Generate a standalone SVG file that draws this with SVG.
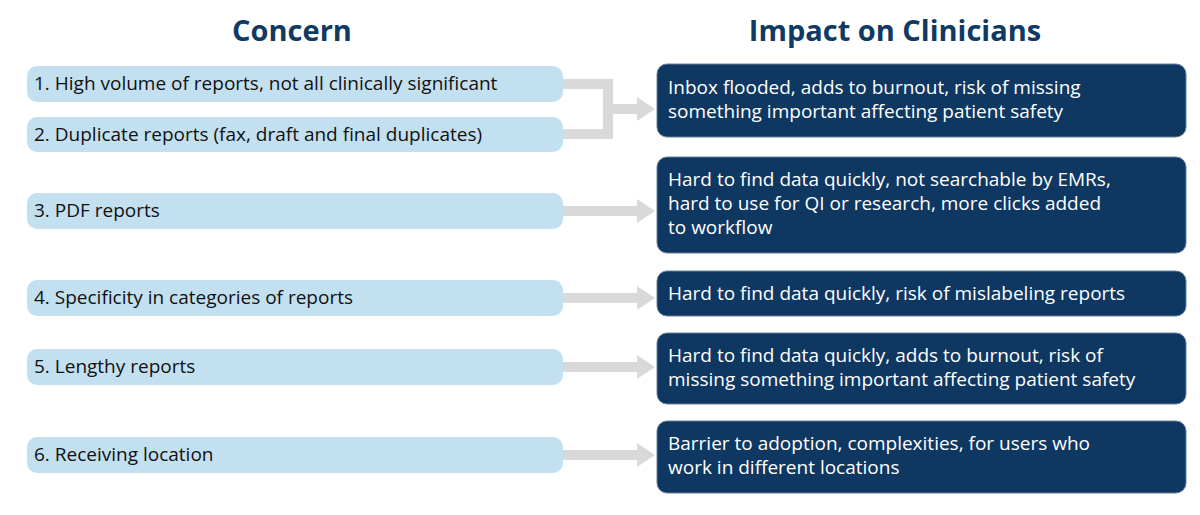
<svg xmlns="http://www.w3.org/2000/svg" width="1200" height="515" viewBox="0 0 1200 515">
<style>
.h{font-family:"Open Sans","Liberation Sans",sans-serif;font-weight:bold;font-size:29px;fill:#0f3a63;text-anchor:middle}
.l{fill:#c3e0f0}
.r{fill:#0e3762;stroke:#6a7f95;stroke-width:1}
.lt{font-family:"Open Sans","Liberation Sans",sans-serif;font-size:19px;fill:#111}
.rt{font-family:"Open Sans","Liberation Sans",sans-serif;font-size:19px;fill:#fff}
.c{stroke:#d9d9d9;stroke-width:10;fill:none}
.ah{fill:#d9d9d9}
</style>
<rect width="1200" height="515" fill="#fff"/>
<text class="h" x="292" y="41">Concern</text>
<text class="h" x="895" y="41">Impact on Clinicians</text>
<g id="connectors">
<path class="c" d="M563 84H608V134H563"/>
<path class="c" d="M608 109H638"/><polygon class="ah" points="637,97 655,109 637,121"/>
<path class="c" d="M563 211H638"/><polygon class="ah" points="637,199 655,211 637,223"/>
<path class="c" d="M563 298H638"/><polygon class="ah" points="637,286 655,298 637,310"/>
<path class="c" d="M563 367H638"/><polygon class="ah" points="637,355 655,367 637,379"/>
<path class="c" d="M563 455H638"/><polygon class="ah" points="637,443 655,455 637,467"/>
</g>
<g id="c1"><rect class="l" x="27" y="66" width="536" height="36" rx="10"/><text class="lt" x="34" y="90">1. High volume of reports, not all clinically significant</text></g>
<g id="c2"><rect class="l" x="27" y="117" width="536" height="35" rx="10"/><text class="lt" x="34" y="141">2. Duplicate reports (fax, draft and final duplicates)</text></g>
<g id="c3"><rect class="l" x="27" y="193" width="536" height="36" rx="10"/><text class="lt" x="34" y="217">3. PDF reports</text></g>
<g id="c4"><rect class="l" x="27" y="280" width="536" height="36" rx="10"/><text class="lt" x="34" y="304">4. Specificity in categories of reports</text></g>
<g id="c5"><rect class="l" x="27" y="349" width="536" height="36" rx="10"/><text class="lt" x="34" y="373">5. Lengthy reports</text></g>
<g id="c6"><rect class="l" x="27" y="437" width="536" height="36" rx="10"/><text class="lt" x="34" y="461">6. Receiving location</text></g>
<g id="i1"><rect class="r" x="657" y="64" width="529" height="73" rx="10"/><text class="rt" x="668" y="94">Inbox flooded, adds to burnout, risk of missing</text><text class="rt" x="668" y="118">something important affecting patient safety</text></g>
<g id="i2"><rect class="r" x="657" y="157" width="529" height="96" rx="10"/><text class="rt" x="668" y="186">Hard to find data quickly, not searchable by EMRs,</text><text class="rt" x="668" y="210">hard to use for QI or research, more clicks added</text><text class="rt" x="668" y="234">to workflow</text></g>
<g id="i3"><rect class="r" x="657" y="271" width="529" height="45" rx="10"/><text class="rt" x="668" y="300">Hard to find data quickly, risk of mislabeling reports</text></g>
<g id="i4"><rect class="r" x="657" y="333" width="529" height="71" rx="10"/><text class="rt" x="668" y="362">Hard to find data quickly, adds to burnout, risk of</text><text class="rt" x="668" y="386">missing something important affecting patient safety</text></g>
<g id="i5"><rect class="r" x="657" y="421" width="529" height="72" rx="10"/><text class="rt" x="668" y="450">Barrier to adoption, complexities, for users who</text><text class="rt" x="668" y="474">work in different locations</text></g>
</svg>
